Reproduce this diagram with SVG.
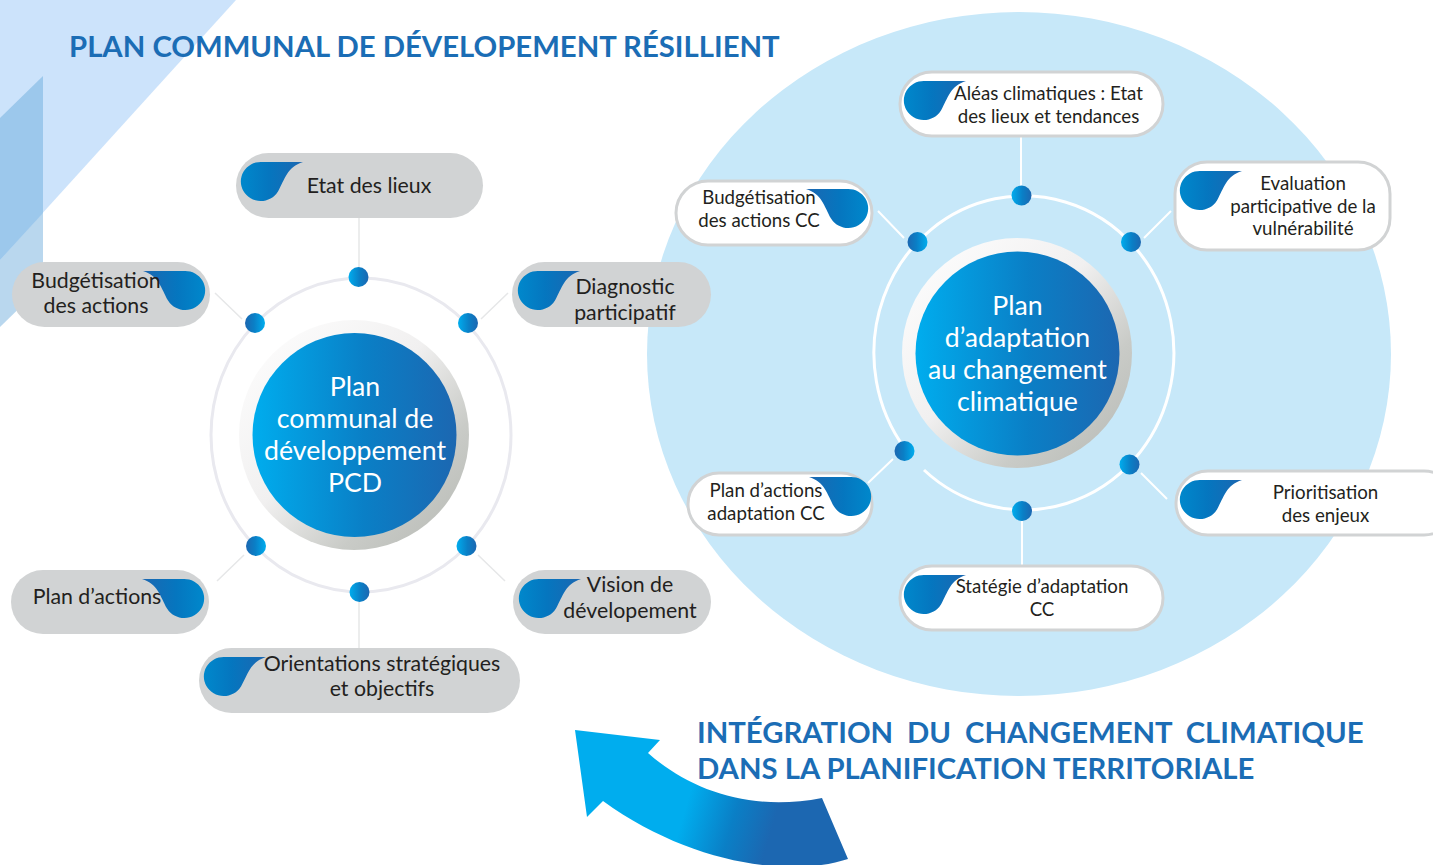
<svg xmlns="http://www.w3.org/2000/svg" width="1433" height="865" viewBox="0 0 1433 865">
<defs>
<linearGradient id="g" x1="0" x2="1" y1="0" y2="0"><stop offset="0" stop-color="#00adee"/><stop offset=".55" stop-color="#0a7fc6"/><stop offset="1" stop-color="#1c67b1"/></linearGradient>
<linearGradient id="gd" x1="0" x2="1" y1="0" y2="0"><stop offset="0" stop-color="#0088cc"/><stop offset=".45" stop-color="#0576bf"/><stop offset="1" stop-color="#1c67b1"/></linearGradient>
<linearGradient id="ga" gradientUnits="userSpaceOnUse" x1="685" y1="810" x2="770" y2="835"><stop offset="0" stop-color="#00adee"/><stop offset=".55" stop-color="#0a7fc6"/><stop offset="1" stop-color="#1c67b1"/></linearGradient>
<linearGradient id="gh" x1="0" x2="1" y1="0" y2="1"><stop offset="0" stop-color="#ffffff"/><stop offset=".45" stop-color="#f1f0f0"/><stop offset=".72" stop-color="#c9cbc7"/><stop offset="1" stop-color="#b5b8b3"/></linearGradient>
<path id="drop" d="M62 0 H20 A20 19.500 0 1 0 37 29.500 C44 17 46 5 62 0Z" fill="url(#gd)"/>
</defs>
<style>
text{font-family:Lato,"Liberation Sans",sans-serif;text-anchor:middle}
.l{fill:#231f20;font-size:21.300px}
.r{fill:#231f20;font-size:18.700px}
.c{fill:#fff;font-size:26.700px}
.t{fill:#1b6db5;font-weight:700;text-anchor:start;font-size:29.300px}
.pg{fill:#d1d3d4}
.pw{fill:#fff;stroke:#d1d3d4;stroke-width:3}
</style>
<g id="background">
<polygon points="0,118 43,76 43,285 0,327" fill="#b9d7ee"/>
<polygon points="0,0 236,0 0,260" fill="#cce3fb"/>
<polygon points="0,118 43,76 43,213 0,260" fill="#9cc8ec"/>
<ellipse cx="1019" cy="354" rx="372" ry="342" fill="#c7e8f9"/>
</g>
<g id="connectors" fill="none">
<g stroke="#e6e7e8" stroke-width="1.500">
<path d="M359 218V268M215 293L242 319M508 293L481 319M217 581L244 555M505 581L478 555M359 602V648"/>
</g>
<ellipse cx="361" cy="435" rx="150" ry="157" stroke="#e9e9ef" stroke-width="3"/>
<g stroke="#fff" stroke-width="2">
<path d="M1021 137V186M878 211L904 238M1171 211L1144 238M893 459L868 483M1141 473L1167 499M1022 520V565"/>
</g>
<path d="M924 470A150 157 0 1 0 905 448.600" stroke="#fff" stroke-width="3"/>
</g>
<g id="hub-left"><circle cx="354" cy="435" r="115" fill="url(#gh)"/><circle cx="354.500" cy="435" r="102" fill="url(#g)"/>
<text class="c" x="355" y="396">Plan</text><text class="c" x="355" y="428">communal de</text><text class="c" x="355" y="460">développement</text><text class="c" x="355" y="492">PCD</text></g>
<g id="hub-right"><circle cx="1017" cy="353" r="115" fill="url(#gh)"/><circle cx="1017.500" cy="353.500" r="102" fill="url(#g)"/>
<text class="c" x="1017.500" y="315">Plan</text><text class="c" x="1017.500" y="347">d’adaptation</text><text class="c" x="1017.500" y="379">au changement</text><text class="c" x="1017.500" y="411">climatique</text></g>
<g id="dots">
<circle cx="358.500" cy="277" r="10" fill="url(#g)"/><circle cx="468" cy="323" r="10" fill="url(#g)"/><circle cx="255" cy="323" r="10" fill="url(#g)" transform="rotate(180 255 323)"/><circle cx="256" cy="546" r="10" fill="url(#g)" transform="rotate(180 256 546)"/><circle cx="466.500" cy="546" r="10" fill="url(#g)"/><circle cx="359.500" cy="592" r="10" fill="url(#g)"/>
<circle cx="1021.500" cy="195.500" r="10" fill="url(#g)"/><circle cx="1131" cy="242" r="10" fill="url(#g)"/><circle cx="917.500" cy="242" r="10" fill="url(#g)" transform="rotate(180 917.500 242)"/><circle cx="904.500" cy="451" r="10" fill="url(#g)" transform="rotate(180 904.500 451)"/><circle cx="1129.500" cy="464.500" r="10" fill="url(#g)"/><circle cx="1022" cy="511" r="10" fill="url(#g)"/>
</g>
<g id="n-etat"><rect class="pg" x="236" y="153" width="247" height="65" rx="32.500"/><use href="#drop" transform="translate(241 162)"/><text class="l" x="369" y="193">Etat des lieux</text></g>
<g id="n-budget"><rect class="pg" x="12" y="262" width="198" height="65" rx="32.500"/><use href="#drop" transform="translate(205 271) scale(-1 1)"/><text class="l" x="96" y="288">Budgétisation</text><text class="l" x="96" y="313">des actions</text></g>
<g id="n-diag"><rect class="pg" x="512" y="262" width="199" height="65" rx="32.500"/><use href="#drop" transform="translate(518 271)"/><text class="l" x="625" y="294">Diagnostic</text><text class="l" x="625" y="320">participatif</text></g>
<g id="n-plan"><rect class="pg" x="11" y="570" width="198" height="64" rx="32"/><use href="#drop" transform="translate(204 579) scale(-1 1)"/><text class="l" x="97" y="604">Plan d’actions</text></g>
<g id="n-vision"><rect class="pg" x="513" y="570" width="198" height="64" rx="32"/><use href="#drop" transform="translate(519 579)"/><text class="l" x="630" y="592">Vision de</text><text class="l" x="630" y="618">dévelopement</text></g>
<g id="n-orient"><rect class="pg" x="199" y="648" width="321" height="65" rx="32.500"/><use href="#drop" transform="translate(204 657)"/><text class="l" x="382" y="671">Orientations stratégiques</text><text class="l" x="382" y="696">et objectifs</text></g>
<g id="n-aleas"><rect class="pw" x="900" y="72" width="263" height="64" rx="32"/><use href="#drop" transform="translate(904 81)"/><text class="r" x="1048.500" y="100">Aléas climatiques : Etat</text><text class="r" x="1048.500" y="123">des lieux et tendances</text></g>
<g id="n-budcc"><rect class="pw" x="676" y="181" width="196" height="64" rx="32"/><use href="#drop" transform="translate(868 189) scale(-1 1)"/><text class="r" x="759" y="204">Budgétisation</text><text class="r" x="759" y="227">des actions CC</text></g>
<g id="n-eval"><rect class="pw" x="1175" y="162" width="215" height="88" rx="32"/><use href="#drop" transform="translate(1180 171)"/><text class="r" x="1303" y="190">Evaluation</text><text class="r" x="1303" y="213">participative de la</text><text class="r" x="1303" y="235">vulnérabilité</text></g>
<g id="n-prio"><rect class="pw" x="1176" y="471" width="280" height="64" rx="32"/><use href="#drop" transform="translate(1180 480)"/><text class="r" x="1325.500" y="499">Prioritisation</text><text class="r" x="1325.500" y="522">des enjeux</text></g>
<g id="n-strat"><rect class="pw" x="900" y="566" width="263" height="64" rx="32"/><use href="#drop" transform="translate(904 575)"/><text class="r" x="1042" y="593">Statégie d’adaptation</text><text class="r" x="1042" y="616">CC</text></g>
<g id="n-plancc"><rect class="pw" x="688" y="473" width="184" height="62" rx="31"/><use href="#drop" transform="translate(871 477) scale(-1 1)"/><text class="r" x="766" y="497">Plan d’actions</text><text class="r" x="766" y="520">adaptation CC</text></g>
<g id="titles">
<text class="t" x="69" y="57">PLAN COMMUNAL DE DÉVELOPEMENT RÉSILLIENT</text>
<text class="t" x="697" y="743" word-spacing="6.800">INTÉGRATION DU CHANGEMENT CLIMATIQUE</text>
<text class="t" x="697" y="779">DANS LA PLANIFICATION TERRITORIALE</text>
</g>
<path id="arrow" d="M575 730 L660 740 L648 753 C690 790 750 812 822 798 L848 859 C790 878 690 864 603 801 L587 817Z" fill="url(#ga)"/>
</svg>
